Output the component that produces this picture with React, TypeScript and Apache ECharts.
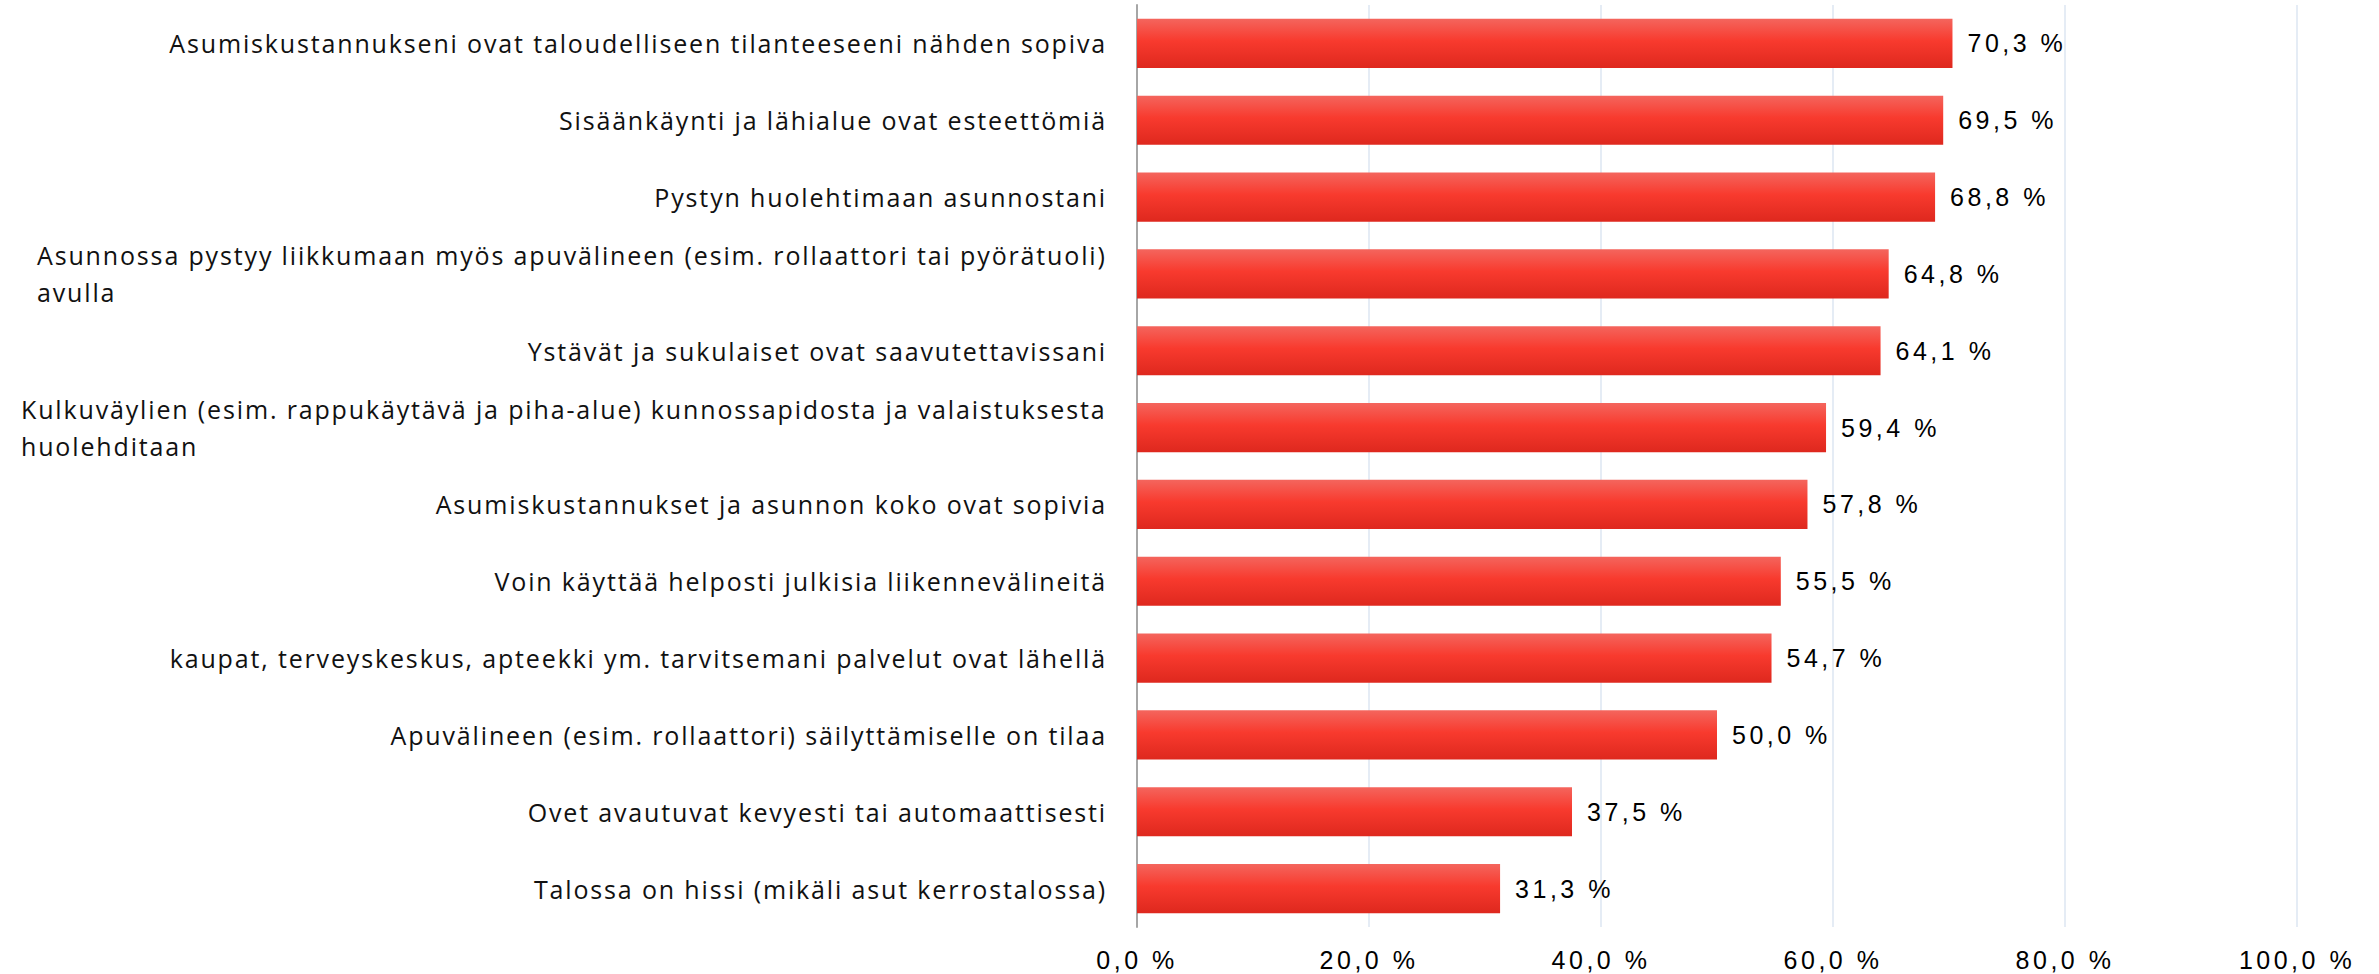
import React, { useEffect, useRef } from "react";
import * as echarts from "echarts";

const categories: string[] = [
  "Asumiskustannukseni ovat taloudelliseen tilanteeseeni nähden sopiva",
  "Sisäänkäynti ja lähialue ovat esteettömiä",
  "Pystyn huolehtimaan asunnostani",
  "Asunnossa pystyy liikkumaan myös apuvälineen (esim. rollaattori tai pyörätuoli)\navulla",
  "Ystävät ja sukulaiset ovat saavutettavissani",
  "Kulkuväylien (esim. rappukäytävä ja piha-alue) kunnossapidosta ja valaistuksesta\nhuolehditaan",
  "Asumiskustannukset ja asunnon koko ovat sopivia",
  "Voin käyttää helposti julkisia liikennevälineitä",
  "kaupat, terveyskeskus, apteekki ym. tarvitsemani palvelut ovat lähellä",
  "Apuvälineen (esim. rollaattori) säilyttämiselle on tilaa",
  "Ovet avautuvat kevyesti tai automaattisesti",
  "Talossa on hissi (mikäli asut kerrostalossa)",
];

const values: number[] = [70.3, 69.5, 68.8, 64.8, 64.1, 59.4, 57.8, 55.5, 54.7, 50.0, 37.5, 31.3];

const xTicks = { min: 0, max: 100, interval: 20 };

const CAT_FONT = "Open Sans";
const CAT_SIZE = 25;
const CAT_SPACING = 1.85;
const NUM_FONT = "Liberation Sans";
const NUM_SIZE = 25;
const NUM_SPACING = 3.5;

function fmtPct(v: number): string {
  return v.toFixed(1).replace(".", ",") + " %";
}

const css = `
#chartbox text { letter-spacing: ${CAT_SPACING}px; }
#chartbox text[style*="Liberation"], #chartbox text[font-family*="Liberation"] { letter-spacing: ${NUM_SPACING}px; }
`;

export default function App() {
  const ref = useRef<HTMLDivElement>(null);
  useEffect(() => {
    if (!ref.current) return;
    document.body.style.margin = "0";
    const canvas = document.createElement("canvas");
    const ctx = canvas.getContext("2d")! as any;
    ctx.font = `${CAT_SIZE}px "${CAT_FONT}"`;
    ctx.letterSpacing = `${CAT_SPACING}px`;

    const rich: Record<string, any> = {};
    const keyOf: Record<string, string> = {};
    categories.forEach((c, i) => {
      if (c.indexOf("\n") >= 0) {
        let w = 0;
        c.split("\n").forEach((l) => {
          w = Math.max(w, ctx.measureText(l).width);
        });
        const key = "w" + i;
        keyOf[c] = key;
        rich[key] = {
          width: Math.ceil(w),
          align: "left",
          fontFamily: CAT_FONT,
          fontSize: CAT_SIZE,
          color: "#111111",
          lineHeight: 37,
        };
      }
    });

    const chart = echarts.init(ref.current, undefined, { renderer: "svg" });
    chart.setOption({
      animation: false,
      backgroundColor: "#ffffff",
      grid: { left: 1137, top: 5, width: 1160, height: 922, containLabel: false },
      xAxis: {
        type: "value",
        min: xTicks.min,
        max: xTicks.max,
        interval: xTicks.interval,
        axisLine: { show: false },
        axisTick: { show: false },
        splitLine: { show: true, lineStyle: { color: "#dce6f2", width: 1.5 } },
        axisLabel: {
          formatter: (v: number) => fmtPct(v),
          fontFamily: NUM_FONT,
          fontSize: NUM_SIZE,
          color: "#000000",
          margin: 20,
        },
      },
      yAxis: {
        type: "category",
        inverse: true,
        data: categories,
        axisLine: { show: true, lineStyle: { color: "#a6a6a6", width: 2 } },
        axisTick: { show: false },
        splitLine: { show: false },
        axisLabel: {
          margin: 30,
          align: "right",
          fontFamily: CAT_FONT,
          fontSize: CAT_SIZE,
          color: "#111111",
          lineHeight: 37,
          formatter: (v: string) => {
            const key = keyOf[v];
            if (!key) return v;
            return v
              .split("\n")
              .map((l) => `{${key}|${l}}`)
              .join("\n");
          },
          rich,
        },
      },
      series: [
        {
          type: "bar",
          data: values,
          barCategoryGap: "36%",
          itemStyle: {
            color: new echarts.graphic.LinearGradient(0, 0, 0, 1, [
              { offset: 0, color: "#f4655d" },
              { offset: 0.45, color: "#f83a2e" },
              { offset: 1, color: "#de281e" },
            ]),
          },
          label: {
            show: true,
            position: "right",
            distance: 15,
            formatter: (p: any) => fmtPct(p.value),
            fontFamily: NUM_FONT,
            fontSize: NUM_SIZE,
            color: "#000000",
          },
        },
      ],
    });
    return () => chart.dispose();
  }, []);
  return (
    <>
      <style>{css}</style>
      <div
        id="chartbox"
        ref={ref}
        style={{ position: "fixed", left: 0, top: 0, width: 2379, height: 974 }}
      />
    </>
  );
}
